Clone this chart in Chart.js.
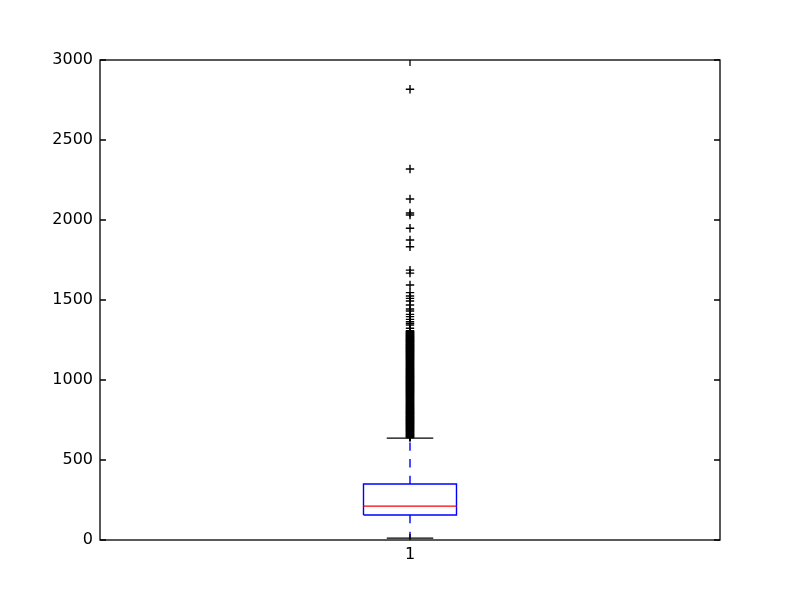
<!DOCTYPE html>
<html><head><meta charset="utf-8">
<script src="https://cdn.jsdelivr.net/npm/chart.js@4"></script>
<style>html,body{margin:0;padding:0;background:#fff}#wrap{width:800px;height:600px;position:relative}</style>
</head><body><div id="wrap"><canvas id="c"></canvas></div>
<script>
const categories = [1];
const tickLabels = ['1'];
const whiskerLow = [12];
const boxQ1 = [156];
const boxMedian = [212];
const boxQ3 = [350];
const whiskerHigh = [637];
const outliers = [
  641, 644, 646, 649, 652, 655, 657, 660, 663, 666, 668, 671, 674, 677, 680, 682, 685, 688, 691, 694,
  697, 699, 702, 705, 708, 710, 713, 716, 719, 722, 725, 727, 730, 733, 736, 739, 742, 744, 747, 750,
  753, 755, 758, 761, 764, 767, 770, 772, 775, 778, 781, 784, 787, 789, 792, 795, 798, 800, 803, 806,
  809, 812, 815, 817, 820, 823, 826, 829, 832, 834, 837, 840, 843, 845, 848, 851, 854, 857, 860, 862,
  865, 868, 871, 874, 877, 879, 882, 885, 888, 890, 893, 896, 899, 902, 905, 907, 910, 913, 916, 919,
  922, 924, 927, 930, 933, 935, 938, 941, 944, 947, 950, 952, 955, 958, 961, 964, 967, 969, 972, 975,
  978, 980, 983, 986, 989, 992, 995, 997, 1000, 1003, 1006, 1009, 1012, 1014, 1017, 1020, 1023, 1025,
  1028, 1031, 1034, 1037, 1040, 1042, 1045, 1048, 1051, 1054, 1057, 1059, 1062, 1065, 1068, 1070, 1073,
  1076, 1079, 1082, 1085, 1087, 1090, 1093, 1096, 1099, 1102, 1104, 1107, 1110, 1113, 1115, 1118, 1121,
  1124, 1127, 1130, 1132, 1135, 1138, 1141, 1144, 1147, 1149, 1152, 1155, 1158, 1160, 1163, 1166, 1169,
  1172, 1175, 1177, 1180, 1183, 1186, 1189, 1192, 1194, 1197, 1200, 1203, 1205, 1208, 1211, 1214, 1217,
  1220, 1222, 1225, 1228, 1231, 1234, 1237, 1239, 1242, 1245, 1248, 1250, 1253, 1256, 1259, 1262, 1265,
  1267, 1270, 1273, 1276, 1279, 1282, 1284, 1287, 1290, 1293, 1295, 1298, 1301, 1304, 1308,
  1323, 1344, 1354, 1364, 1379, 1396, 1410, 1431, 1444, 1469, 1494, 1510, 1525, 1546, 1594,
  1668, 1687, 1833, 1875, 1948, 2031, 2044, 2131, 2319, 2817
];
const yTicks = [0, 500, 1000, 1500, 2000, 2500, 3000];

const BOX_HALF = 0.075, CAP_HALF = 0.0375;
const FONT = {family: 'DejaVu Sans', size: 16};

const datasets = [];
categories.forEach((c, i) => {
  datasets.push({label:'whiskerHi', data:[{x:c,y:boxQ3[i]},{x:c,y:whiskerHigh[i]}], showLine:true,
    borderColor:'#0000ff', borderWidth:1.4, borderDash:[8.3,8.3], pointRadius:0, order:5});
  datasets.push({label:'whiskerLo', data:[{x:c,y:boxQ1[i]},{x:c,y:whiskerLow[i]}], showLine:true,
    borderColor:'#0000ff', borderWidth:1.4, borderDash:[8.3,8.3], pointRadius:0, order:5});
  datasets.push({label:'capHi', data:[{x:c-CAP_HALF,y:whiskerHigh[i]},{x:c+CAP_HALF,y:whiskerHigh[i]}], showLine:true,
    borderColor:'#000000', borderWidth:1.4, pointRadius:0, order:4});
  datasets.push({label:'capLo', data:[{x:c-CAP_HALF,y:whiskerLow[i]},{x:c+CAP_HALF,y:whiskerLow[i]}], showLine:true,
    borderColor:'#000000', borderWidth:1.4, pointRadius:0, order:4});
  datasets.push({label:'box', data:[{x:c-BOX_HALF,y:boxQ1[i]},{x:c+BOX_HALF,y:boxQ1[i]},{x:c+BOX_HALF,y:boxQ3[i]},{x:c-BOX_HALF,y:boxQ3[i]},{x:c-BOX_HALF,y:boxQ1[i]}],
    showLine:true, borderColor:'#0000ff', borderWidth:1.4, pointRadius:0, order:3});
  datasets.push({label:'median', data:[{x:c-BOX_HALF,y:boxMedian[i]},{x:c+BOX_HALF,y:boxMedian[i]}], showLine:true,
    borderColor:'#ff0000', borderWidth:1.4, pointRadius:0, order:2});
  datasets.push({label:'fliers', data: outliers.map(v => ({x:c, y:v})), showLine:false,
    pointStyle:'cross', pointRadius:4.2, pointHoverRadius:4.2, borderColor:'#000000', backgroundColor:'#000000', borderWidth:1.4, order:1});
});

const framePlugin = {
  id:'frame',
  afterDatasetsDraw(chart){
    const {ctx, chartArea:a, scales} = chart;
    ctx.save();
    ctx.strokeStyle = '#000'; ctx.lineWidth = 1.3;
    const TL = 6;
    ctx.beginPath();
    yTicks.forEach(v => {
      const y = scales.y.getPixelForValue(v);
      ctx.moveTo(a.left, y); ctx.lineTo(a.left + TL, y);
      ctx.moveTo(a.right, y); ctx.lineTo(a.right - TL, y);
    });
    categories.forEach(v => {
      const x = scales.x.getPixelForValue(v);
      ctx.moveTo(x, a.bottom); ctx.lineTo(x, a.bottom - TL);
      ctx.moveTo(x, a.top); ctx.lineTo(x, a.top + TL);
    });
    ctx.stroke();
    ctx.strokeRect(a.left, a.top, a.right - a.left, a.bottom - a.top);
    ctx.restore();
  }
};

new Chart(document.getElementById('c'), {
  type:'scatter',
  data:{datasets},
  options:{
    responsive:true, maintainAspectRatio:false, animation:false,
    devicePixelRatio:1,
    layout:{padding:{top:60, right:80, left:0, bottom:0}},
    plugins:{legend:{display:false}, tooltip:{enabled:false}},
    elements:{line:{tension:0}},
    scales:{
      x:{type:'linear', min:0.5, max:1.5,
        afterBuildTicks: s => { s.ticks = categories.map(v => ({value:v})); },
        afterFit: s => { s.height = 60; },
        grid:{display:false, drawTicks:false, tickLength:0}, border:{display:false},
        ticks:{font:FONT, color:'#000', padding:5, maxRotation:0,
          callback:(v) => { const k = categories.indexOf(v); return k >= 0 ? tickLabels[k] : ''; }}
      },
      y:{type:'linear', min:0, max:3000,
        afterBuildTicks: s => { s.ticks = yTicks.map(v => ({value:v})); },
        afterFit: s => { s.width = 100; },
        grid:{display:false, drawTicks:false, tickLength:0}, border:{display:false},
        ticks:{font:FONT, color:'#000', padding:7, callback:(v) => String(v)}
      }
    }
  },
  plugins:[framePlugin]
});
</script>
</body></html>
